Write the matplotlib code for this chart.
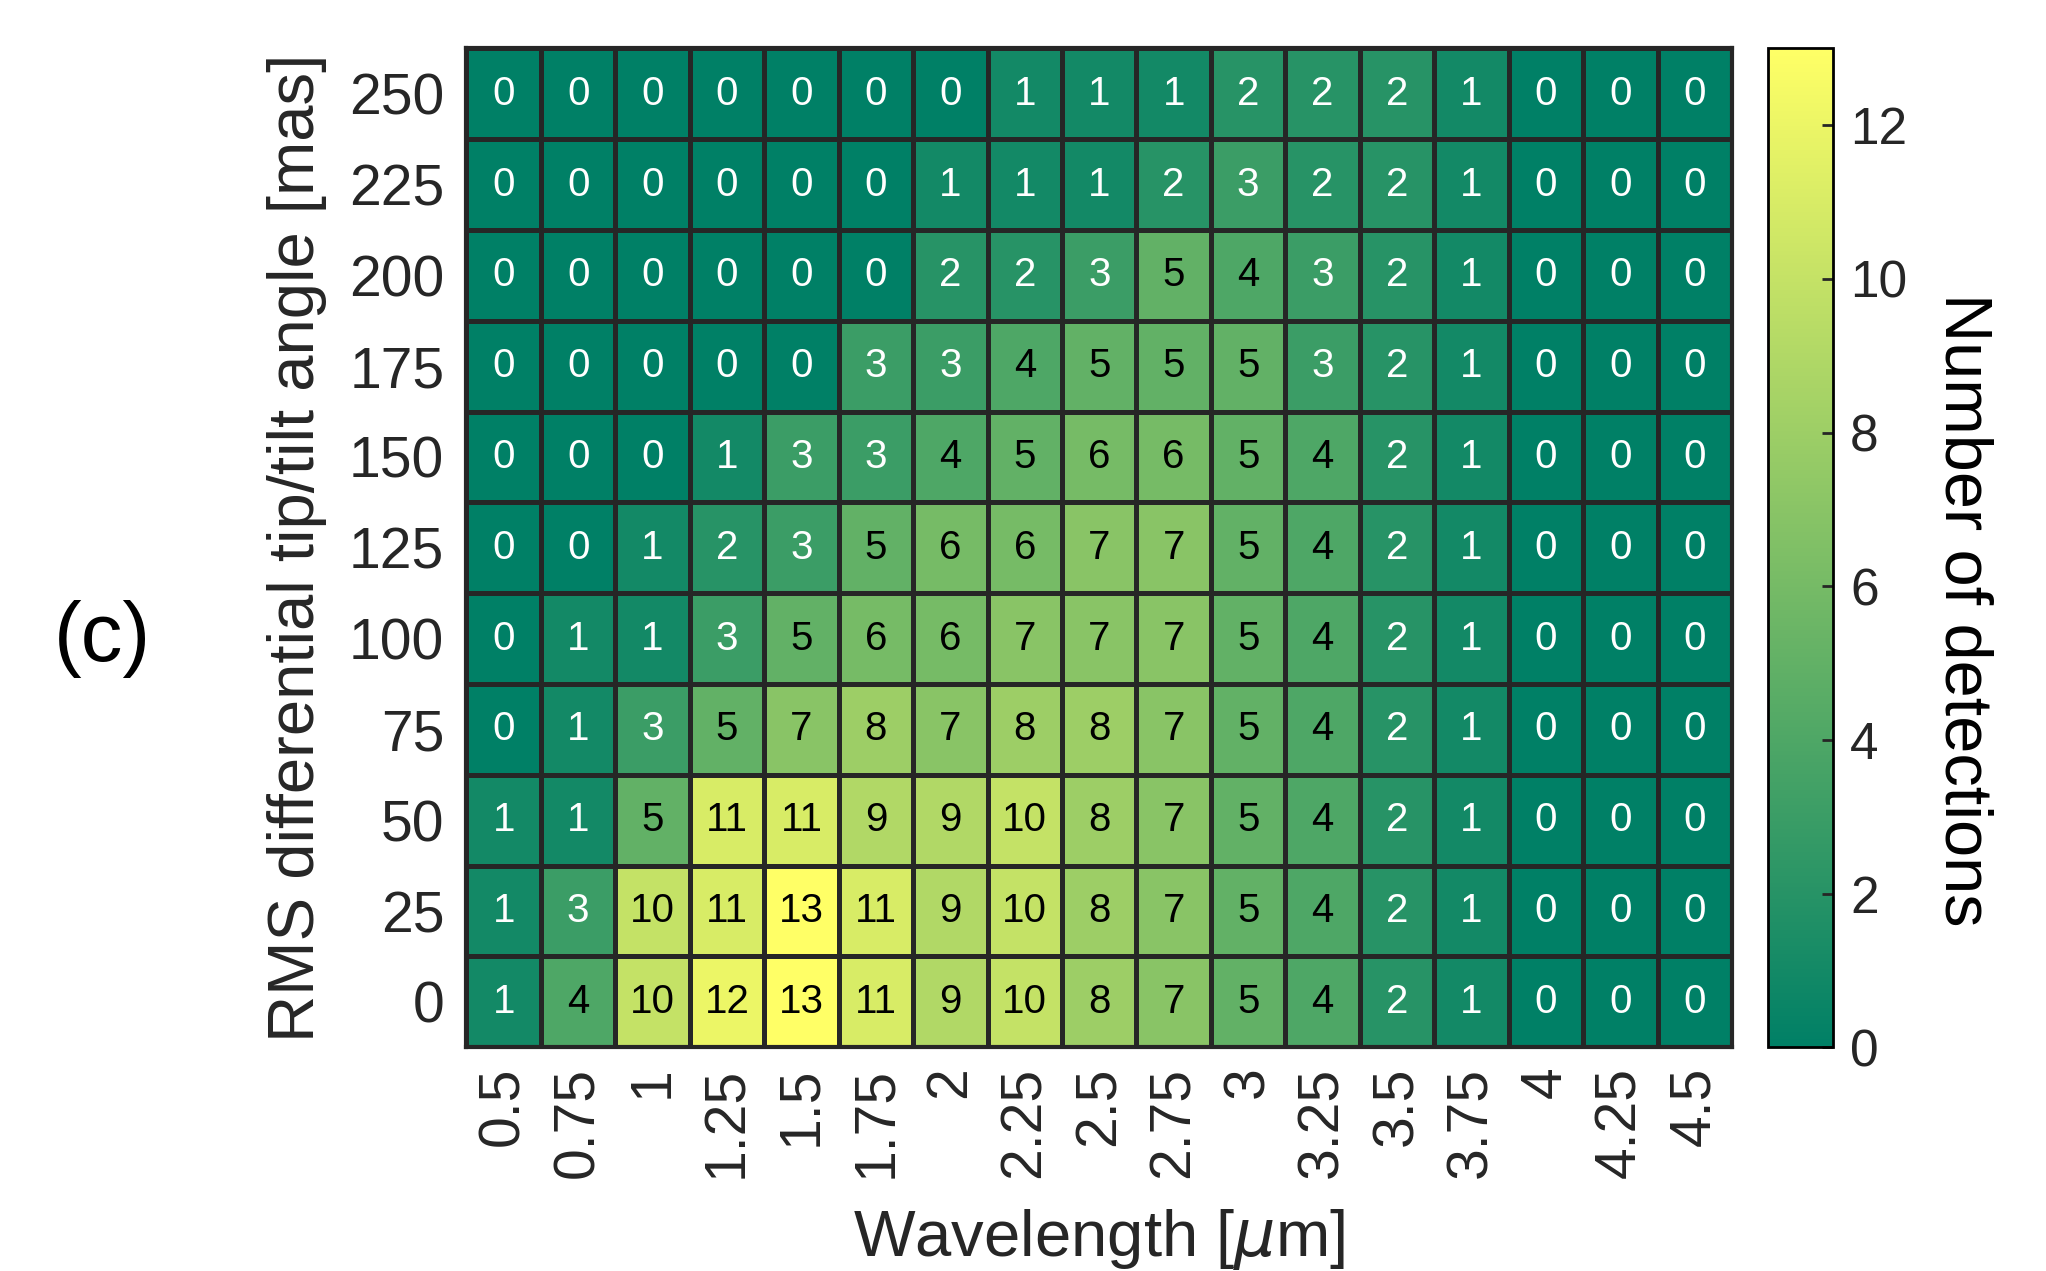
import numpy as np
import matplotlib
matplotlib.use("Agg")
import matplotlib.pyplot as plt

plt.rcParams['font.family'] = ['Liberation Sans', 'DejaVu Sans']

# wavelength bins (columns) and tip/tilt angles (rows, listed bottom -> top)
wavelengths = ['0.5', '0.75', '1', '1.25', '1.5', '1.75', '2', '2.25', '2.5',
               '2.75', '3', '3.25', '3.5', '3.75', '4', '4.25', '4.5']
angles = ['0', '25', '50', '75', '100', '125', '150', '175', '200', '225', '250']

# number of detections, one row per angle (0 mas first)
det_0 = [1, 4, 10, 12, 13, 11, 9, 10, 8, 7, 5, 4, 2, 1, 0, 0, 0]
det_25 = [1, 3, 10, 11, 13, 11, 9, 10, 8, 7, 5, 4, 2, 1, 0, 0, 0]
det_50 = [1, 1, 5, 11, 11, 9, 9, 10, 8, 7, 5, 4, 2, 1, 0, 0, 0]
det_75 = [0, 1, 3, 5, 7, 8, 7, 8, 8, 7, 5, 4, 2, 1, 0, 0, 0]
det_100 = [0, 1, 1, 3, 5, 6, 6, 7, 7, 7, 5, 4, 2, 1, 0, 0, 0]
det_125 = [0, 0, 1, 2, 3, 5, 6, 6, 7, 7, 5, 4, 2, 1, 0, 0, 0]
det_150 = [0, 0, 0, 1, 3, 3, 4, 5, 6, 6, 5, 4, 2, 1, 0, 0, 0]
det_175 = [0, 0, 0, 0, 0, 3, 3, 4, 5, 5, 5, 3, 2, 1, 0, 0, 0]
det_200 = [0, 0, 0, 0, 0, 0, 2, 2, 3, 5, 4, 3, 2, 1, 0, 0, 0]
det_225 = [0, 0, 0, 0, 0, 0, 1, 1, 1, 2, 3, 2, 2, 1, 0, 0, 0]
det_250 = [0, 0, 0, 0, 0, 0, 0, 1, 1, 1, 2, 2, 2, 1, 0, 0, 0]

data = np.array([det_0, det_25, det_50, det_75, det_100, det_125,
                 det_150, det_175, det_200, det_225, det_250])

txt_col = '#262626'

fig = plt.figure(figsize=(20.46, 12.71), dpi=100)
ax = fig.add_axes([0.228, 0.176, 0.6185, 0.786])
cax = fig.add_axes([0.864, 0.176, 0.032, 0.786])

nrow, ncol = data.shape
mesh = ax.pcolormesh(np.arange(ncol + 1), np.arange(nrow + 1), data,
                     cmap='summer', vmin=0, vmax=13,
                     edgecolors=txt_col, linewidth=2.5)

for i in range(nrow):
    for j in range(ncol):
        v = data[i, j]
        ax.text(j + 0.5, i + 0.5, str(v), ha='center', va='center',
                fontsize=29, color='black' if v >= 4 else 'white')

ax.set_xlim(0, ncol)
ax.set_ylim(0, nrow)
ax.set_xticks(np.arange(ncol) + 0.5)
ax.set_xticklabels(wavelengths, rotation=90)
ax.set_yticks(np.arange(nrow) + 0.5)
ax.set_yticklabels(angles)
ax.tick_params(length=0, labelsize=41, colors=txt_col, pad=14)
ax.tick_params(axis='y', pad=16)
for s in ax.spines.values():
    s.set_linewidth(3)
    s.set_color(txt_col)

ax.set_xlabel('Wavelength [$\\mu$m]', fontsize=47, color=txt_col)
ax.xaxis.set_label_coords(0.5, -0.16)
ax.xaxis.label.set_va('top')
ax.set_ylabel('RMS differential tip/tilt angle [mas]', fontsize=47, color=txt_col)
ax.yaxis.set_label_coords(-0.11, 0.5)

cb = fig.colorbar(mesh, cax=cax, ticks=np.arange(0, 13, 2))
cb.outline.set_linewidth(2)
cb.outline.set_edgecolor('black')
cax.tick_params(labelsize=37, colors=txt_col, direction='in', length=8, width=2, pad=12)
cb.set_label('Number of detections', fontsize=48, rotation=-90, va='bottom',
             color='black')
cax.yaxis.set_label_coords(2.5, 0.438)

fig.text(0.05, 0.497, '(c)', fontsize=60, ha='center', va='center')

fig.savefig('out.png', dpi=100)
